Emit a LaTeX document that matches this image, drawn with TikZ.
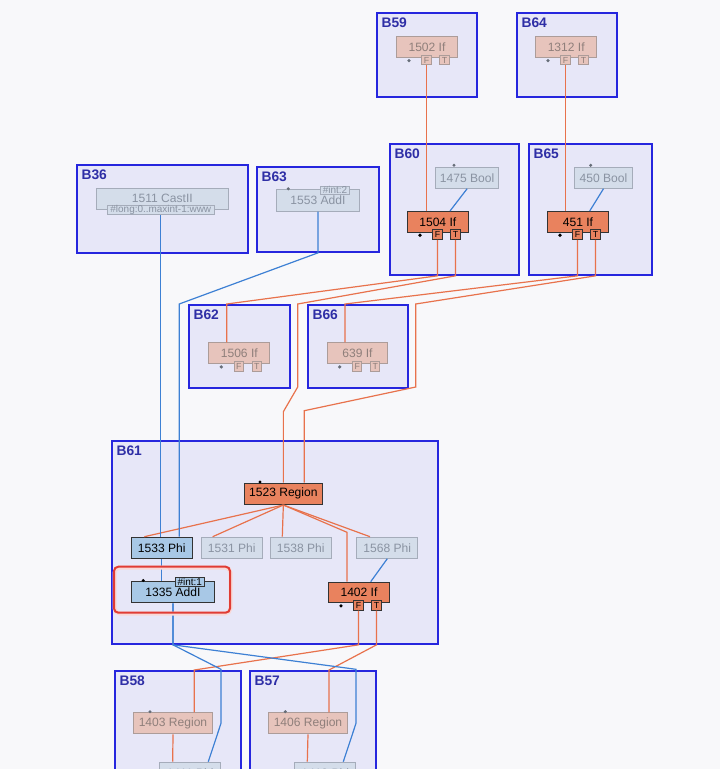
\documentclass[tikz,border=0pt]{standalone}
\usepackage{fontspec}
\setmainfont{Liberation Sans}
\usetikzlibrary{calc}

\definecolor{bgcol}{HTML}{F8F8FA}
\definecolor{blkfill}{HTML}{E7E7F8}
\definecolor{blkline}{HTML}{2626DE}
\definecolor{blktext}{HTML}{2E2EA6}
\definecolor{actor}{HTML}{E9825E}
\definecolor{fador}{HTML}{E7C4BC}
\definecolor{fadoline}{HTML}{AC9C99}
\definecolor{fadotext}{HTML}{8F7F7B}
\definecolor{actbl}{HTML}{A8C8E6}
\definecolor{fadbl}{HTML}{D4DDEA}
\definecolor{fadline}{HTML}{A5ACBA}
\definecolor{fadtext}{HTML}{8A93A2}
\definecolor{edgeor}{HTML}{E8724C}
\definecolor{edgebl}{HTML}{3D80D4}
\definecolor{hlred}{HTML}{E03C34}

\newlength{\gpx}\setlength{\gpx}{0.3mm}
\newcommand{\gnfont}{\fontsize{10.3}{12}\selectfont}

\tikzset{
  gbox/.style 2 args={anchor=north west, minimum width=#1\gpx, minimum height=#2\gpx,
    inner sep=0pt, line width=0.3mm, font=\gnfont},
  blk/.style={draw=blkline, fill=blkfill, line width=0.55mm},
  blkname/.style={anchor=base west, inner sep=0pt, text=blktext,
    font=\bfseries\fontsize{11.8}{13}\selectfont},
  actif/.style={draw=black!80, fill=actor, text=black},
  fadif/.style={draw=fadoline, fill=fador, text=fadotext},
  actval/.style={draw=black!80, fill=actbl, text=black},
  fadval/.style={draw=fadline, fill=fadbl, text=fadtext},
  actport/.style={actif, minimum size=9.5\gpx, inner sep=0pt, line width=0.3mm,
    font=\fontsize{7.5}{8}\selectfont},
  fadport/.style={fadif, minimum size=9.5\gpx, inner sep=0pt, line width=0.3mm,
    font=\fontsize{7.5}{8}\selectfont},
  actdot/.style={fill=black},
  faddot/.style={fill=fadtext!75!black},
  tag/.style={inner sep=0pt, line width=0.25mm, font=\fontsize{8.5}{9}\selectfont},
  oedge/.style={draw=edgeor, line width=0.36mm},
  bedge/.style={draw=edgebl, line width=0.36mm},
  hilite/.style={draw=hlred, line width=0.6mm, rounded corners=1.3mm},
}

% dot and F/T ports under an If node
\newcommand{\ifports}[2]{%
  \fill[#2dot] ($(#1.south west)+(13,2.6)$) circle (0.55mm);
  \node[#2port] (#1F) at ($(#1.south west)+(30.5,2)$) {F};
  \node[#2port] (#1T) at ($(#1.south west)+(48.5,2)$) {T};
}

\begin{document}
\begin{tikzpicture}[x=0.3mm,y=-0.3mm]
  \useasboundingbox (0,0) rectangle (720,769);
  \clip (0,0) rectangle (720,769);
  \fill[bgcol] (0,0) rectangle (720,769);

  % blocks
  \node[gbox={100}{84}, blk] (b59) at (376,12) {};
  \node[gbox={100}{84}, blk] (b64) at (516,12) {};
  \node[gbox={129}{131}, blk] (b60) at (389,143) {};
  \node[gbox={123}{131}, blk] (b65) at (528,143) {};
  \node[gbox={171}{88}, blk] (b36) at (76,164) {};
  \node[gbox={122}{85}, blk] (b63) at (256,166) {};
  \node[gbox={101}{83}, blk] (b62) at (188,304) {};
  \node[gbox={100}{83}, blk] (b66) at (307,304) {};
  \node[gbox={326}{203}, blk] (b61) at (111,440) {};
  \node[gbox={126}{120}, blk] (b58) at (114,670) {};
  \node[gbox={126}{120}, blk] (b57) at (249,670) {};
  \foreach \b in {59,64,60,65,36,63,62,66,61,58,57}
    \node[blkname] (l\b) at ($(b\b.north west)+(5.3,15.7)$) {B\b};

  % nodes
  \node[gbox={61}{21}, fadif] (n1502) at (396,36) {1502 If};
  \node[gbox={61.4}{21}, fadif] (n1312) at (535,36) {1312 If};
  \node[gbox={63.3}{21}, fadval] (n1475) at (435,166.7) {1475 Bool};
  \node[gbox={57.4}{21}, fadval] (n450) at (574.3,166.7) {450 Bool};
  \node[gbox={60.6}{20.7}, actif] (n1504) at (407,211) {1504 If};
  \node[gbox={61}{20.7}, actif] (n451) at (547,211) {451 If};
  \node[gbox={131.7}{21}, fadval] (n1511) at (96,187.7) {1511 CastII};
  \node[gbox={83.6}{21.4}, fadval] (n1553) at (275.7,189.3) {1553 AddI};
  \node[gbox={61}{21}, fadif] (n1506) at (208.3,342.3) {1506 If};
  \node[gbox={60.6}{21}, fadif] (n639) at (326.7,342.3) {639 If};
  \node[gbox={77.7}{21.3}, actif] (n1523) at (244,482.7) {1523 Region};
  \node[gbox={61}{21}, actval] (n1533) at (130.7,536.7) {1533 Phi};
  \node[gbox={61}{21}, fadval] (n1531) at (200.7,536.7) {1531 Phi};
  \node[gbox={61}{21}, fadval] (n1538) at (269.7,536.7) {1538 Phi};
  \node[gbox={61}{21}, fadval] (n1568) at (356.3,536.7) {1568 Phi};
  \node[gbox={83.6}{21.3}, actval] (n1335) at (130.7,581) {1335 AddI};
  \node[gbox={61}{20.6}, actif] (n1402) at (328,581.7) {1402 If};
  \node[gbox={78.4}{21}, fadif] (n1403) at (133.3,712.3) {1403 Region};
  \node[gbox={78.4}{21}, fadif] (n1406) at (268.3,712.3) {1406 Region};
  \node[gbox={60.7}{21}, fadval] (n1411) at (159.3,761.7) {1411 Phi};
  \node[gbox={60.7}{21}, fadval] (n1413) at (294.3,761.7) {1413 Phi};

  \node[fadval, tag, minimum width=107\gpx, minimum height=8.6\gpx] (t1511) at (160.8,210) {\#long:0..maxint-1:www};
  \node[fadval, tag, minimum width=28.6\gpx, minimum height=7.3\gpx] (t1553) at (335,190.3) {\#int:2};
  \node[actval, tag, minimum width=29.3\gpx, minimum height=8.7\gpx] (t1335) at (189.7,581.7) {\#int:1};

  \ifports{n1502}{fad}
  \ifports{n1312}{fad}
  \ifports{n1504}{act}
  \ifports{n451}{act}
  \ifports{n1506}{fad}
  \ifports{n639}{fad}
  \ifports{n1402}{act}

  \fill[faddot] ($(n1475.north west)+(19,-1.4)$) circle (0.5mm);
  \fill[faddot] ($(n450.north west)+(16.4,-1.4)$) circle (0.5mm);
  \fill[faddot] ($(n1553.north west)+(12.6,-0.5)$) circle (0.5mm);
  \fill[actdot] ($(n1523.north west)+(16,-0.7)$) circle (0.5mm);
  \fill[actdot] ($(n1335.north west)+(12.6,-0.5)$) circle (0.5mm);
  \fill[faddot] ($(n1403.north west)+(16.7,-0.6)$) circle (0.5mm);
  \fill[faddot] ($(n1406.north west)+(17,-0.6)$) circle (0.5mm);

  % control edges
  \coordinate (i1506) at ($(n1506.north west)+(18.4,0)$);
  \coordinate (i639) at ($(n639.north west)+(18.3,0)$);
  \coordinate (i1523b) at ($(n1523.north west)+(60.3,0)$);
  \coordinate (la) at (297.7,387);
  \coordinate (lb) at (415.7,387);
  \coordinate (i1403) at ($(n1403.north west)+(61,0)$);
  \coordinate (i1406) at ($(n1406.north west)+(60.7,0)$);
  \draw[oedge] (n1502F.south) -- (n1502F.south |- n1504.north);
  \draw[oedge] (n1312F.south) -- (n1312F.south |- n451.north);
  \draw[oedge] (n1504F.south) -- (n1504F.south |- b60.south) -- (i1506 |- b62.north) -- (i1506);
  \draw[oedge] (n451F.south) -- (n451F.south |- b65.south) -- (i639 |- b66.north) -- (i639);
  \draw[oedge] (n1504T.south) -- (n1504T.south |- b60.south) -- (la |- b66.north) -- (la)
    -- ($(n1523.north)+(0,-71)$) -- (n1523.north);
  \draw[oedge] (n451T.south) -- (n451T.south |- b65.south) -- (lb |- b66.north) -- (lb)
    -- ($(i1523b)+(0,-72)$) -- (i1523b);
  \foreach \tg/\d in {n1533/13.6, n1531/12, n1538/12.6, n1568/13.7}
    \draw[oedge] (n1523.south) -- ($(\tg.north west)+(\d,0)$);
  \draw[oedge] (n1523.south) -- ($(n1402.north west)+(19,-49.4)$) -- ($(n1402.north west)+(19,0)$);
  \draw[oedge] (n1402F.south) -- (n1402F.south |- b61.south) -- (i1403 |- b58.north) -- (i1403);
  \draw[oedge] (n1402T.south) -- (n1402T.south |- b61.south) -- (i1406 |- b57.north) -- (i1406);
  \draw[oedge] (n1403.south) -- ($(n1411.north west)+(13.4,0)$);
  \draw[oedge] (n1406.south) -- ($(n1413.north west)+(13,0)$);

  % data edges
  \coordinate (i1533) at ($(n1533.north west)+(48.5,0)$);
  \draw[bedge] (n1475.south) -- ($(n1504.north west)+(43,0)$);
  \draw[bedge] (n450.south) -- ($(n451.north west)+(42.7,0)$);
  \draw[bedge] (t1511.south) -- (t1511.south |- n1533.north);
  \draw[bedge] (n1553.south) -- (n1553.south |- b63.south) -- (i1533 |- b62.north) -- (i1533);
  \draw[bedge] (n1533.south) -- (n1533.south |- n1335.north);
  \draw[bedge] (n1568.south) -- ($(n1402.north west)+(42.7,0)$);
  \foreach \tg in {n1411,n1413}
    \draw[bedge] (n1335.south) -- (n1335.south |- b61.south) -- ($(\tg.north east)+(0,-92.4)$)
      -- ($(\tg.north east)+(0,-38.4)$) -- ($(\tg.north west)+(49,0)$);

  \draw[hlred!20, line width=1.2mm, rounded corners=1.6mm] (114.5,567.5) rectangle (230.5,613.5);
  \draw[hilite] (114,566.7) rectangle (230,612.7);
\end{tikzpicture}
\end{document}
